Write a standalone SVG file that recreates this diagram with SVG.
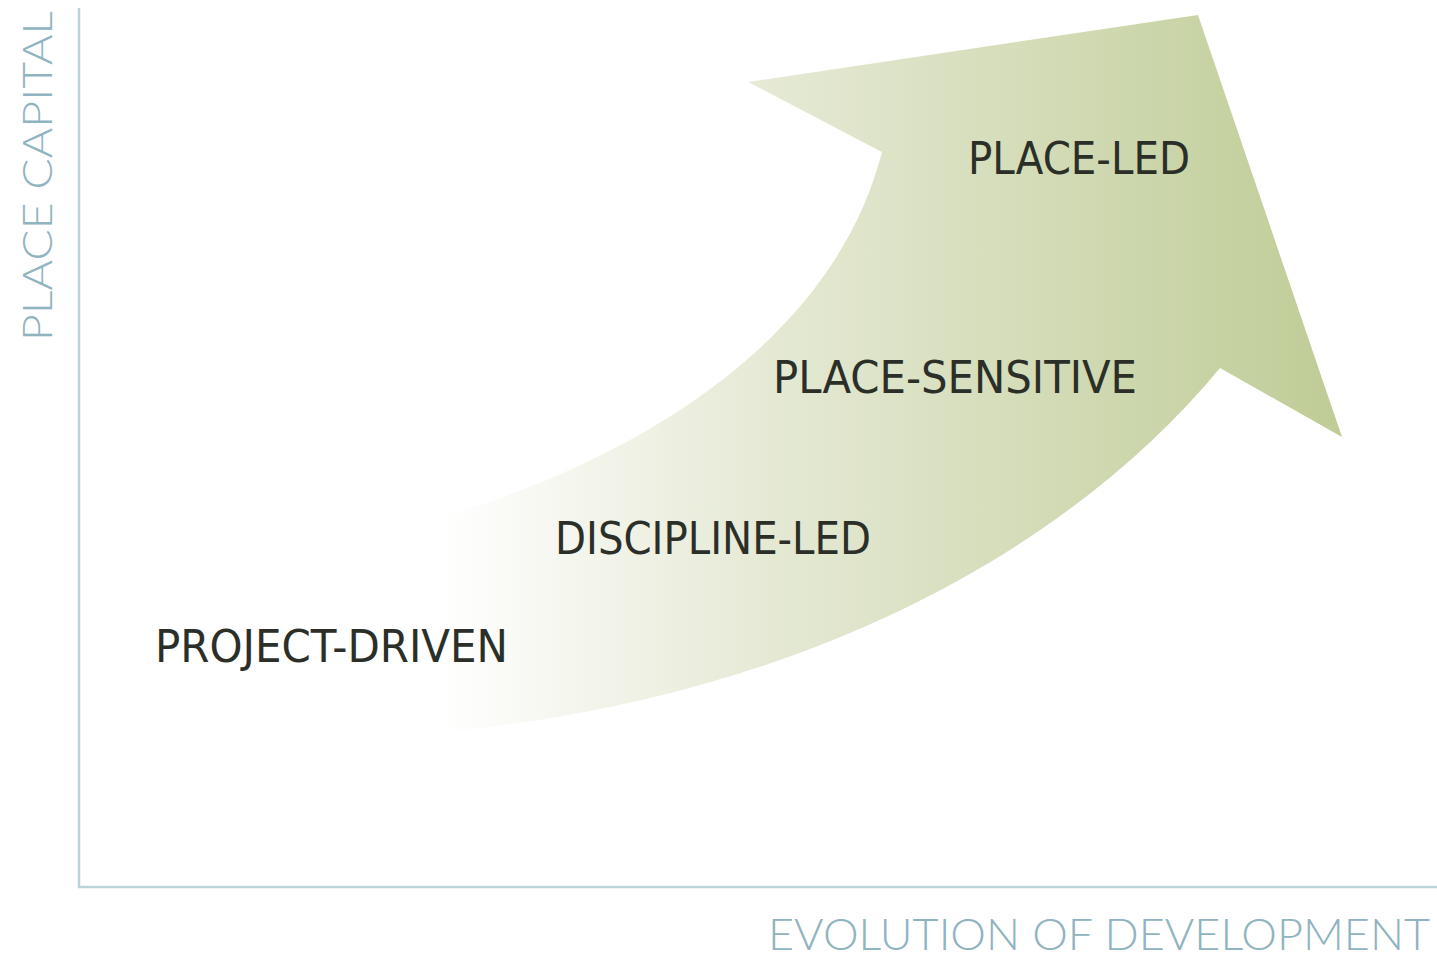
<svg xmlns="http://www.w3.org/2000/svg" width="1437" height="962" viewBox="0 0 1437 962">
<defs>
<linearGradient id="g" gradientUnits="userSpaceOnUse" x1="440" y1="0" x2="1340" y2="0">
<stop offset="0" stop-color="#ffffff"/>
<stop offset="0.35" stop-color="#e6ead6"/>
<stop offset="1" stop-color="#bfcc96"/>
</linearGradient>
<style>
.ax{stroke:#bcd2da;stroke-width:2.5;fill:none}
.axl{font-family:Lato,"Open Sans",sans-serif;font-weight:300;fill:#8fb3bf}
.lb{font-family:"DejaVu Sans Condensed","DejaVu Sans",sans-serif;fill:#2b2f28;font-size:44px}
</style>
</defs>
<rect width="1437" height="962" fill="#ffffff"/>
<g id="arrow">
<path d="M440,518 C650,455 835,335 882,152 L748,82 L1198,15 L1342,437 L1220,368 C1070,550 800,700 440,732 Z" fill="url(#g)"/>
</g>
<g id="axes">
<path class="ax" d="M79,8 V887 H1437"/>
</g>
<g id="y-label"><text class="axl" font-size="42" transform="translate(52,341) rotate(-90)" textLength="330" lengthAdjust="spacingAndGlyphs">PLACE CAPITAL</text></g>
<g id="x-label"><text class="axl" font-size="44" x="768" y="950" textLength="662" lengthAdjust="spacingAndGlyphs">EVOLUTION OF DEVELOPMENT</text></g>
<g id="project-driven"><text class="lb" x="155" y="662" textLength="353" lengthAdjust="spacingAndGlyphs">PROJECT-DRIVEN</text></g>
<g id="discipline-led"><text class="lb" x="555" y="554" textLength="316" lengthAdjust="spacingAndGlyphs">DISCIPLINE-LED</text></g>
<g id="place-sensitive"><text class="lb" x="773" y="393" textLength="364" lengthAdjust="spacingAndGlyphs">PLACE-SENSITIVE</text></g>
<g id="place-led"><text class="lb" x="968" y="174" textLength="222" lengthAdjust="spacingAndGlyphs">PLACE-LED</text></g>
</svg>
